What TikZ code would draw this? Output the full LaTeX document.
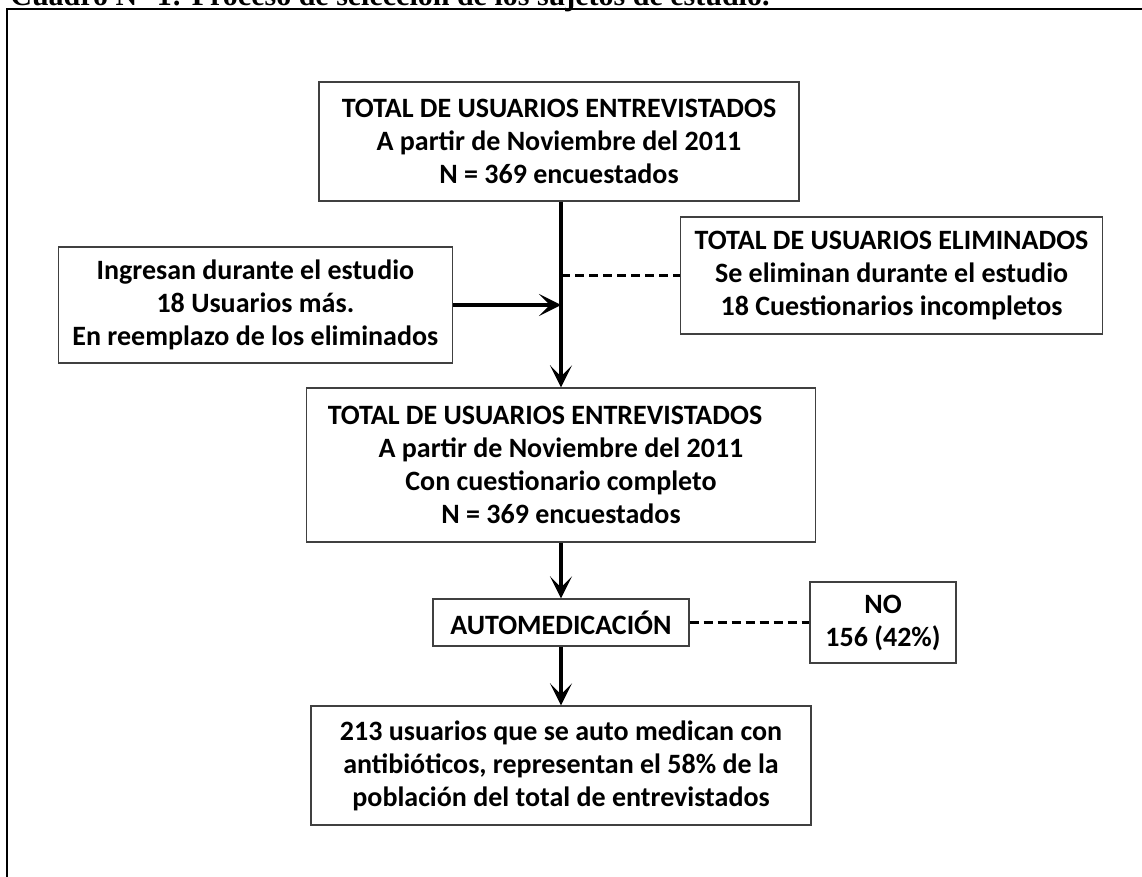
\documentclass[tikz,border=0pt]{standalone}
\usepackage{fontspec}
\setmainfont{Carlito}
\newfontfamily\captionfont{Liberation Serif}
\usetikzlibrary{arrows.meta,positioning,calc}

\begin{document}
\begin{tikzpicture}[x=0.5pt, y=-0.5pt,
    box/.style={
      draw=black!75, line width=0.7pt, fill=white,
      font=\bfseries\fontsize{14}{16.5}\selectfont, align=center,
      inner sep=2pt
    },
    side/.style={box, inner xsep=7pt},
    arr/.style={-{Stealth[length=11pt,width=11pt,inset=5.5pt]}, line width=1.6pt},
    skip/.style={dash pattern=on 4.5pt off 2.5pt, line width=1.8pt},
    frame/.style={line width=1.4pt}
  ]

  \useasboundingbox (0,0) rectangle (1142,877);
  \clip (0,0) rectangle (1142,877);

  % caption, cut by the top edge
  \node[anchor=base west, inner sep=0pt,
        font=\captionfont\bfseries\fontsize{15}{18}\selectfont] (caption) at (10,6)
    {Cuadro N° 1: Proceso de selección de los sujetos de estudio.};
  \draw[frame] (7,877) -- (7,9) -- (1142,9);

  \node[box, minimum width=240pt, minimum height=59.5pt] (tot1) at (559,141.5)
    {TOTAL DE USUARIOS ENTREVISTADOS\\A partir de Noviembre del 2011\\N = 369 encuestados};
  \node[side, minimum height=58pt, anchor=east] (ing) at (453,305)
    {Ingresan durante el estudio\\18 Usuarios más.\\En reemplazo de los eliminados};
  \node[side, minimum height=58.5pt, anchor=west] (elim) at (680,275.5)
    {TOTAL DE USUARIOS ELIMINADOS\\Se eliminan durante el estudio\\18 Cuestionarios incompletos};
  \node[box, minimum width=254.5pt, minimum height=77pt] (tot2) at (561,465)
    {TOTAL DE USUARIOS ENTREVISTADOS\hspace*{16pt}\\A partir de Noviembre del 2011\\Con cuestionario completo\\N = 369 encuestados};
  \node[box, minimum width=128pt, minimum height=23.5pt] (auto) at (561,622.5)
    {AUTOMEDICACIÓN};
  \node[box, minimum width=73pt, minimum height=40.5pt] (no) at (883,622.5)
    {NO\\156 (42\%)};
  \node[box, minimum width=250pt, minimum height=59.5pt] (res) at (561,765.5)
    {213 usuarios que se auto medican con\\antibióticos, representan el 58\% de la\\población del total de entrevistados};

  \coordinate (jin) at (tot2.north |- ing.east);
  \coordinate (jout) at (tot2.north |- elim.west);

  \draw[arr] (tot1.south -| tot2.north) -- (tot2.north);
  \draw[arr] (ing) -- (jin);
  \draw[skip] (jout) -- (elim);
  \draw[arr] (tot2) -- (auto);
  \draw[skip] (auto) -- (no);
  \draw[arr] (auto) -- (res);

\end{tikzpicture}
\end{document}
